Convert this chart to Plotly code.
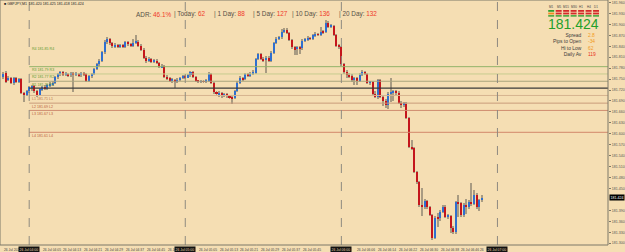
import plotly.graph_objects as go

# ---------------- data ----------------
opens = [
 181.756,181.767,181.747,181.753,181.739,181.752,181.742,181.750,181.712,181.707,
 181.716,181.728,181.730,181.716,181.705,181.722,181.727,181.724,181.733,181.736,
 181.740,181.755,181.763,181.769,181.762,181.765,181.760,181.766,181.762,181.765,
 181.761,181.767,181.763,181.745,181.758,181.764,181.778,181.790,181.800,181.823,
 181.852,181.860,181.848,181.840,181.843,181.838,181.842,181.839,181.851,181.845,
 181.841,181.850,181.853,181.842,181.830,181.808,181.800,181.805,181.798,181.800,
 181.795,181.783,181.786,181.756,181.752,181.745,181.748,181.744,181.748,181.754,
 181.758,181.755,181.760,181.769,181.755,181.745,181.742,181.744,181.742,181.745,
 181.765,181.740,181.714,181.708,181.712,181.705,181.709,181.703,181.700,181.698,
 181.718,181.740,181.753,181.750,181.764,181.758,181.765,181.768,181.805,181.818,
 181.806,181.802,181.808,181.800,181.822,181.848,181.860,181.864,181.880,181.885,
 181.877,181.858,181.837,181.832,181.838,181.834,181.855,181.858,181.862,181.860,
 181.870,181.873,181.871,181.880,181.878,181.905,181.893,181.896,181.871,181.842,
 181.838,181.790,181.770,181.762,181.758,181.748,181.752,181.746,181.762,181.770,
 181.764,181.740,181.742,181.708,181.700,181.747,181.702,181.690,181.680,181.710,
 181.712,181.716,181.712,181.685,181.680,181.683,181.643,181.564,181.560,181.495,
 181.468,181.405,181.400,181.415,181.398,181.378,181.315,181.370,181.368,181.386,
 181.400,181.372,181.375,181.342,181.330,181.412,181.410,181.377,181.405,181.400,
 181.412,181.408,181.433,181.399,181.418]
highs = [
 181.769,181.772,181.758,181.756,181.757,181.755,181.754,181.753,181.715,181.719,
 181.732,181.735,181.733,181.719,181.726,181.731,181.733,181.736,181.741,181.745,
 181.758,181.767,181.772,181.773,181.769,181.768,181.770,181.769,181.770,181.768,
 181.770,181.770,181.766,181.762,181.768,181.781,181.795,181.805,181.826,181.858,
 181.866,181.863,181.852,181.848,181.846,181.847,181.846,181.855,181.854,181.849,
 181.861,181.871,181.856,181.845,181.834,181.812,181.810,181.809,181.804,181.804,
 181.798,181.790,181.789,181.760,181.756,181.752,181.751,181.752,181.757,181.762,
 181.762,181.764,181.773,181.772,181.759,181.748,181.748,181.747,181.749,181.770,
 181.768,181.743,181.718,181.716,181.715,181.713,181.712,181.706,181.704,181.721,
 181.744,181.758,181.757,181.768,181.768,181.770,181.774,181.808,181.822,181.821,
 181.810,181.812,181.812,181.826,181.851,181.864,181.869,181.886,181.890,181.889,
 181.880,181.861,181.841,181.842,181.842,181.859,181.863,181.867,181.866,181.874,
 181.878,181.877,181.893,181.884,181.912,181.908,181.900,181.899,181.874,181.846,
 181.841,181.794,181.775,181.766,181.763,181.756,181.756,181.766,181.776,181.773,
 181.767,181.746,181.745,181.716,181.751,181.750,181.706,181.694,181.714,181.752,
 181.720,181.719,181.716,181.690,181.687,181.686,181.646,181.583,181.563,181.498,
 181.471,181.451,181.420,181.419,181.401,181.381,181.374,181.382,181.390,181.404,
 181.404,181.380,181.378,181.346,181.416,181.432,181.414,181.409,181.420,181.418,
 181.465,181.445,181.438,181.422,181.432]
lows = [
 181.750,181.739,181.744,181.736,181.734,181.739,181.738,181.708,181.688,181.704,
 181.712,181.718,181.713,181.700,181.703,181.717,181.720,181.720,181.729,181.732,
 181.736,181.751,181.758,181.759,181.758,181.756,181.757,181.714,181.758,181.756,
 181.757,181.758,181.742,181.741,181.754,181.760,181.775,181.787,181.797,181.820,
 181.846,181.844,181.836,181.836,181.835,181.834,181.835,181.836,181.841,181.838,
 181.838,181.846,181.839,181.827,181.805,181.795,181.797,181.794,181.793,181.790,
 181.780,181.779,181.752,181.748,181.741,181.740,181.725,181.740,181.744,181.750,
 181.751,181.752,181.756,181.752,181.741,181.738,181.739,181.738,181.740,181.741,
 181.736,181.710,181.703,181.700,181.698,181.701,181.699,181.696,181.682,181.695,
 181.715,181.737,181.745,181.747,181.755,181.755,181.762,181.765,181.801,181.802,
 181.797,181.768,181.796,181.797,181.819,181.845,181.856,181.861,181.876,181.873,
 181.855,181.833,181.816,181.817,181.818,181.830,181.851,181.854,181.856,181.857,
 181.866,181.867,181.867,181.874,181.875,181.889,181.889,181.867,181.838,181.833,
 181.786,181.765,181.754,181.752,181.743,181.733,181.735,181.742,181.758,181.760,
 181.736,181.735,181.704,181.697,181.696,181.698,181.675,181.672,181.667,181.687,
 181.690,181.706,181.681,181.672,181.674,181.640,181.560,181.555,181.492,181.463,
 181.400,181.375,181.395,181.393,181.374,181.309,181.311,181.345,181.362,181.382,
 181.368,181.365,181.328,181.326,181.326,181.373,181.372,181.372,181.380,181.395,
 181.402,181.404,181.395,181.388,181.414]
closes = [
 181.764,181.742,181.753,181.739,181.752,181.742,181.750,181.712,181.707,181.716,
 181.728,181.730,181.716,181.705,181.722,181.727,181.724,181.733,181.736,181.740,
 181.755,181.763,181.769,181.762,181.765,181.760,181.766,181.762,181.765,181.761,
 181.767,181.763,181.745,181.758,181.764,181.778,181.790,181.800,181.823,181.852,
 181.860,181.848,181.840,181.843,181.838,181.842,181.839,181.851,181.845,181.841,
 181.850,181.853,181.842,181.830,181.808,181.800,181.805,181.798,181.800,181.795,
 181.783,181.786,181.756,181.752,181.745,181.748,181.744,181.748,181.754,181.758,
 181.755,181.760,181.769,181.755,181.745,181.742,181.744,181.742,181.745,181.765,
 181.740,181.714,181.708,181.712,181.705,181.709,181.703,181.700,181.698,181.718,
 181.740,181.753,181.750,181.764,181.758,181.765,181.768,181.805,181.818,181.806,
 181.802,181.808,181.800,181.822,181.848,181.860,181.864,181.880,181.885,181.877,
 181.858,181.837,181.832,181.838,181.834,181.855,181.858,181.862,181.860,181.870,
 181.873,181.871,181.880,181.878,181.905,181.893,181.896,181.871,181.842,181.838,
 181.790,181.770,181.762,181.758,181.748,181.752,181.746,181.762,181.770,181.764,
 181.740,181.742,181.708,181.700,181.747,181.702,181.690,181.680,181.710,181.712,
 181.716,181.712,181.685,181.680,181.683,181.643,181.564,181.560,181.495,181.468,
 181.405,181.400,181.415,181.398,181.378,181.315,181.370,181.368,181.386,181.400,
 181.372,181.375,181.342,181.330,181.412,181.410,181.377,181.405,181.400,181.412,
 181.408,181.433,181.399,181.418,181.424]

separator_bars = [10, 70, 130, 190]
separator_labels = ["26 Jul 04:00", "26 Jul 05:00", "26 Jul 06:00", "26 Jul 07:00"]
time_tick_bars = [0, 15, 23, 31, 39, 47, 55, 63, 75, 83, 91, 99, 107, 115,
                  136, 144, 152, 160, 168, 176, 183]
time_tick_labels = ["26 Jul 2024", "26 Jul 04:05", "26 Jul 04:13", "26 Jul 04:21",
                    "26 Jul 04:29", "26 Jul 04:37", "26 Jul 04:45", "26 Jul",
                    "26 Jul 05:05", "26 Jul 05:13", "26 Jul 05:21", "26 Jul 05:29",
                    "26 Jul 05:37", "26 Jul 05:45", "26 Jul 06:06", "26 Jul 06:14",
                    "26 Jul 06:22", "26 Jul 06:30", "26 Jul 06:38", "26 Jul 06:46",
                    "26"]
price_ticks = [181.960, 181.930, 181.900, 181.870, 181.840, 181.810, 181.780, 181.750,
               181.720, 181.690, 181.660, 181.630, 181.600, 181.570, 181.540, 181.510,
               181.480, 181.450, 181.390, 181.360, 181.330, 181.300]

level_values = [181.842, 181.784, 181.764, 181.744, 181.725, 181.705, 181.684, 181.664, 181.604]
level_labels = ["R4 181.85 R4", "R3 181.79 R3", "R2 181.77 R2", "R1 181.75 R1", "",
                "L1 181.71 L1", "L2 181.69 L2", "L3 181.67 L3", "L4 181.61 L4"]
level_line_colors = [None, "#93b36a", "#c9cc90", "#a9a57e", "#3a3a3a",
                     "#d6b48f", "#c99b7a", "#cf8c70", "#d3876b"]
level_text_colors = ["#5e9a30", "#5e9a30", "#5e9a30", "#5e9a30", None,
                     "#b8704a", "#b8603c", "#b8603c", "#b8603c"]

current_price = 181.424
symbol_header = "GBPJPY,M1  181.420 181.425 181.418 181.424"
adr_items = [("ADR:", "46.1%"), ("| Today:", "62"), ("| 1 Day:", "88"),
             ("| 5 Day:", "127"), ("| 10 Day:", "136"), ("| 20 Day:", "132")]
stat_names = ["Spread", "Pips to Open", "Hi to Low", "Daily Av"]
stat_values = ["2.8", "-34", "62", "119"]
stat_colors = ["#f29a1e", "#f29a1e", "#f29a1e", "#e8331e"]
timeframes = ["M1", "M5", "M15", "M30", "H1", "H4", "D1"]
tf_row1 = ["#2e9e2e", "#d42a2a", "#d42a2a", "#d42a2a", "#d42a2a", "#d42a2a", "#d42a2a"]
tf_row2 = ["#f08c1e", "#d42a2a", "#d42a2a", "#d42a2a", "#d42a2a", "#d42a2a", "#d42a2a"]
tf_row3 = ["#2e9e2e", "#2e9e2e", "#2e9e2e", "#2e9e2e", "#2e9e2e", "#2e9e2e", "#2e9e2e"]

# ---------------- figure ----------------
BG = "#f5deb3"
W, H = 625, 252
ML, MR, MT, MB = 0, 15, 0, 7
PW, PH = W - ML - MR, H - MT - MB
FONT = "Liberation Sans"

def px(xp):
    return xp / PW

def py(yp):
    return 1 - yp / PH

idx = list(range(len(closes)))
bull = "#2f6fcf"
bear = "#c4161c"
wick = "#a89b82"
body_base = [min(o, c) for o, c in zip(opens, closes)]
body_h = [max(abs(c - o), 0.0012) for o, c in zip(opens, closes)]
body_col = [bull if c > o else (bear if c < o else wick) for o, c in zip(opens, closes)]

fig = go.Figure()
fig.add_trace(go.Bar(x=idx, base=lows, y=[h - l for h, l in zip(highs, lows)],
                     width=0.38, marker=dict(color=wick, line=dict(width=0)),
                     hoverinfo="skip", showlegend=False))
fig.add_trace(go.Bar(x=idx, base=body_base, y=body_h, width=0.78,
                     marker=dict(color=body_col, line=dict(width=0)),
                     hoverinfo="skip", showlegend=False))

shapes = []
for v, c in zip(level_values, level_line_colors):
    if c:
        shapes.append(dict(type="line", xref="x", yref="y", x0=separator_bars[0],
                           x1=232.5, y0=v, y1=v,
                           line=dict(color=c, width=1.2 if c == "#3a3a3a" else 1)))
for b in separator_bars:
    shapes.append(dict(type="line", xref="x", yref="paper", x0=b, x1=b, y0=0, y1=1,
                       line=dict(color="#8e8a80", width=1, dash="dash")))
shapes.append(dict(type="rect", xref="paper", yref="paper", x0=0, x1=1, y0=0, y1=1,
                   line=dict(color="#7d7868", width=1)))
col_x = [553, 560.5, 568, 575.5, 583, 590.5, 598]
for row, (y0, y1) in zip([tf_row1, tf_row2, tf_row3], [(10, 11.8), (12.6, 14.4), (15.2, 16.6)]):
    for cx, c in zip(col_x, row):
        shapes.append(dict(type="rect", xref="paper", yref="paper",
                           x0=px(cx - 3), x1=px(cx + 3), y0=py(y1), y1=py(y0),
                           fillcolor=c, line=dict(width=0)))

ann = []
for v, t, c in zip(level_values, level_labels, level_text_colors):
    if t:
        ann.append(dict(xref="x", yref="y", x=separator_bars[0] + 0.4, y=v, text=t,
                        xanchor="left", yanchor="top", yshift=0.5, showarrow=False,
                        font=dict(family=FONT, size=3.6, color=c)))
ann.append(dict(xref="paper", yref="paper", x=px(2), y=py(4), text="■ " + symbol_header,
                xanchor="left", yanchor="middle", showarrow=False,
                font=dict(family=FONT, size=3.6, color="#222")))
adr_x = [134, 173, 213, 252, 291, 338]
for (lab, val), xx in zip(adr_items, adr_x):
    ann.append(dict(xref="paper", yref="paper", x=px(xx), y=py(14),
                    text=f"{lab} <span style='color:#ef3a2a'>{val}</span>",
                    xanchor="left", yanchor="middle", showarrow=False,
                    font=dict(family=FONT, size=6.4, color="#555046")))
ann.append(dict(xref="paper", yref="paper", x=px(603), y=py(23.8), text=f"{current_price:.3f}",
                xanchor="right", yanchor="middle", showarrow=False,
                font=dict(family=FONT, size=14, color="#23a02a")))
for cx, t in zip(col_x, timeframes):
    ann.append(dict(xref="paper", yref="paper", x=px(cx), y=py(7.3), text=t,
                    xanchor="center", yanchor="middle", showarrow=False,
                    font=dict(family=FONT, size=3, color="#444")))
# stats block: one multi-line text for names, one for values
ann.append(dict(xref="paper", yref="paper", x=px(585.5), y=py(31), text="<br>".join(stat_names),
                xanchor="right", yanchor="top", align="right", showarrow=False,
                font=dict(family=FONT, size=4.9, color="#3a3a3a")))
ann.append(dict(xref="paper", yref="paper", x=px(587.5), y=py(31),
                text="<br>".join(f"<span style='color:{c}'>{v}</span>"
                                 for v, c in zip(stat_values, stat_colors)),
                xanchor="left", yanchor="top", align="left", showarrow=False,
                font=dict(family=FONT, size=4.9, color="#f29a1e")))
for b, t in zip(time_tick_bars, time_tick_labels):
    ann.append(dict(xref="x", yref="paper", x=b - 0.6, y=0, text=t, xanchor="left",
                    yanchor="top", yshift=-1, showarrow=False,
                    font=dict(family=FONT, size=3.3, color="#444")))
for b, t in zip(separator_bars, separator_labels):
    ann.append(dict(xref="x", yref="paper", x=b, y=0, text=t, xanchor="center",
                    yanchor="top", yshift=-0.5, showarrow=False, bgcolor="#111",
                    borderpad=0.6,
                    font=dict(family=FONT, size=3.4, color="#e8d6b0")))
ann.append(dict(xref="paper", yref="y", x=1, y=current_price, text=f"{current_price:.3f}",
                xanchor="left", yanchor="middle", xshift=1, showarrow=False,
                bgcolor="#000", borderpad=0.5,
                font=dict(family=FONT, size=3.6, color="#ffffff")))

fig.update_layout(
    width=W, height=H, margin=dict(l=ML, r=MR, t=MT, b=MB, pad=0),
    paper_bgcolor=BG, plot_bgcolor=BG, barmode="overlay", bargap=0,
    shapes=shapes, annotations=ann, showlegend=False,
    xaxis=dict(range=[-1.226, 232.5], showgrid=False, zeroline=False,
               showticklabels=False, ticks="", fixedrange=True),
    yaxis=dict(range=[181.295, 181.9668], side="right", showgrid=False, zeroline=False,
               tickvals=price_ticks, ticktext=[f"{v:.3f}" for v in price_ticks],
               ticks="outside", ticklen=2, tickcolor="#7d7868", tickwidth=1,
               tickfont=dict(family=FONT, size=3.6, color="#555"),
               showline=False),
)
fig.write_html("out.html")
